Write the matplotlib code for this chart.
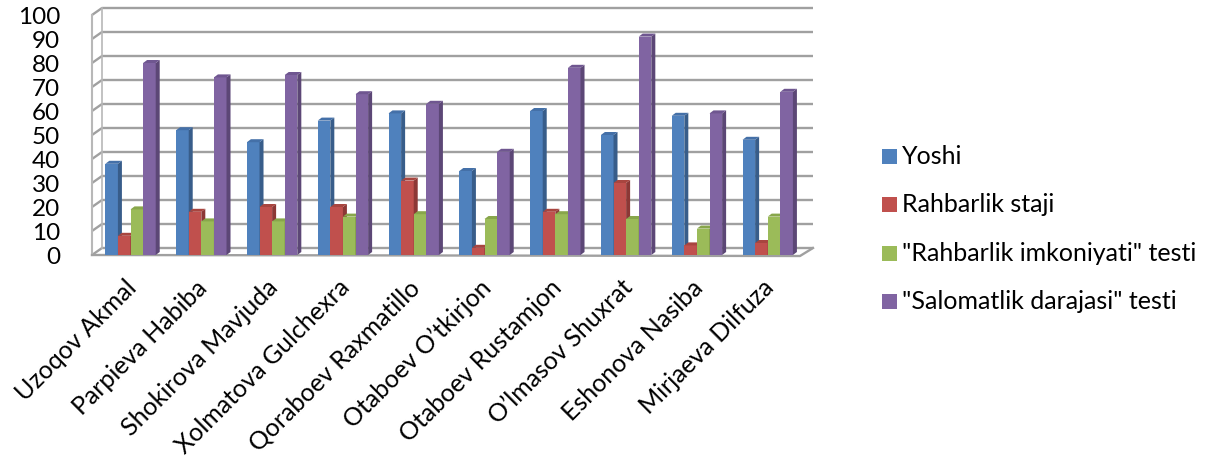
import matplotlib
matplotlib.use('Agg')
import matplotlib.pyplot as plt
from matplotlib.patches import Polygon, Rectangle
import numpy as np

plt.rcParams['font.family'] = ['Lato', 'DejaVu Sans']

# data
names = ['Uzoqov Akmal', 'Parpieva Habiba', 'Shokirova Mavjuda', 'Xolmatova Gulchexra',
         'Qoraboev Raxmatillo', 'Otaboev O\u2019tkirjon', 'Otaboev Rustamjon',
         'O\u2019lmasov Shuxrat', 'Eshonova Nasiba', 'Mirjaeva Dilfuza']
series = ['Yoshi', 'Rahbarlik staji', '"Rahbarlik imkoniyati" testi', '"Salomatlik darajasi" testi']
yoshi = [38, 52, 47, 56, 59, 35, 60, 50, 58, 48]
staji = [8, 18, 20, 20, 31, 3, 18, 30, 4, 5]
imkoniyat = [19, 14, 14, 16, 17, 15, 17, 15, 11, 16]
salomatlik = [80, 74, 75, 67, 63, 43, 78, 91, 59, 68]
yticks = list(range(0, 101, 10))

values = [yoshi, staji, imkoniyat, salomatlik]
front = ['#4F81BD', '#C0504D', '#9BBB59', '#8064A2']
side = ['#385D8A', '#8C3836', '#71893F', '#5C4776']
top = ['#4470A8', '#A8453F', '#88A64B', '#6F5690']

W, H = 1208, 459
fig = plt.figure(figsize=(W / 100, H / 100), dpi=100)
ax_l, ax_b, ax_w, ax_h = 92, 255, 708, 240
ax = fig.add_axes([ax_l / W, (H - ax_b) / H, ax_w / W, ax_h / H])
x0, x1 = -0.544, 9.456
ax.set_xlim(x0, x1)
ax.set_ylim(0, 100)
ax.patch.set_visible(False)
for s in ax.spines.values():
    s.set_visible(False)

# px -> data
ppx = ax_w / (x1 - x0)
ppy = ax_h / 100.0
wdx, wdy = 10 / ppx, 7 / ppy      # back wall offset
bdx, bdy = 4 / ppx, 3 / ppy       # bar depth

grid_c = '#A0A0A0'
for v in yticks:
    ax.plot([x0, x0 + wdx, x1 + wdx + 3 / ppx], [v, v + wdy, v + wdy],
            color=grid_c, lw=1.7, zorder=1, clip_on=False, solid_capstyle='butt')
ax.plot([x0, x0], [0, 100], color='#B8B8B8', lw=1.5, zorder=1, clip_on=False)
ax.plot([x0 + wdx, x0 + wdx], [wdy, 100 + wdy], color='#B8B8B8', lw=1.2, zorder=1, clip_on=False)
# floor
ax.plot([x0, x1, x1 + wdx + 3 / ppx], [0, -1 / ppy, wdy], color=grid_c, lw=1.7,
        zorder=1, clip_on=False)

bw = 12.6 / ppx
x = np.arange(len(names))
for k, vals in enumerate(values):
    xs = x + (k - 2) * bw
    ax.bar(xs, vals, width=bw, align='edge', color=front[k], lw=0, zorder=3 + k)
    for xl, h in zip(xs, vals):
        xr = xl + bw
        ax.add_patch(Polygon([(xr, 0), (xr, h), (xr + bdx, h + bdy), (xr + bdx, bdy)],
                             closed=True, fc=side[k], ec='none', zorder=3 + k))
        ax.add_patch(Polygon([(xl, h), (xr, h), (xr + bdx, h + bdy), (xl + bdx, h + bdy)],
                             closed=True, fc=top[k], ec='none', zorder=3 + k))

ax.set_yticks(yticks)
ax.set_yticklabels([str(v) for v in yticks])
ax.tick_params(axis='y', length=0, pad=23, labelsize=17.5)
ax.set_xticks(x - 0.08)
ax.set_xticklabels(names, rotation=45, ha='right', va='top', rotation_mode='anchor')
ax.tick_params(axis='x', length=0, pad=15, labelsize=18)

# legend
for i, name in enumerate(series):
    yb = 164 + i * 48.3
    fig.patches.append(Rectangle((882 / W, (H - yb) / H), 15 / W, 15 / H,
                                 transform=fig.transFigure, fc=front[i], ec='none'))
    fig.text(902 / W, (H - yb) / H, name, fontsize=18, va='baseline', ha='left')

fig.savefig('out.png', dpi=100)
